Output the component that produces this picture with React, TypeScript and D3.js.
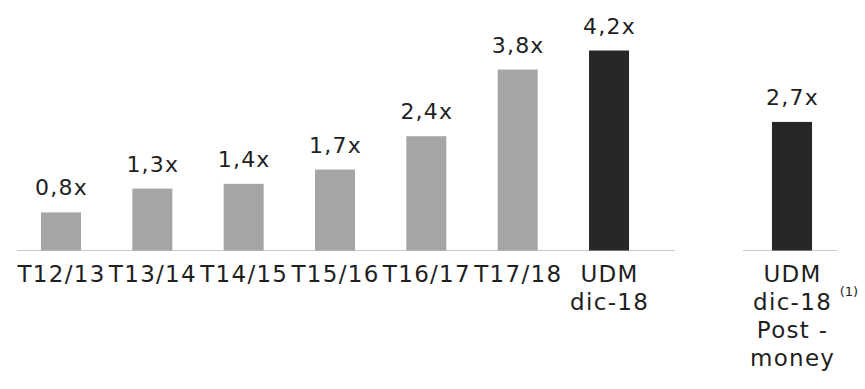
import { useEffect, useRef } from 'react';
import * as d3 from 'd3';

// Multiples (x) by period
const categories = ['T12/13', 'T13/14', 'T14/15', 'T15/16', 'T16/17', 'T17/18', 'UDM\ndic-18'];
const values = [0.8, 1.3, 1.4, 1.7, 2.4, 3.8, 4.2];
const highlighted = ['UDM\ndic-18'];

// Post-money group, drawn apart on the right
const postCategories = ['UDM\ndic-18\nPost -\nmoney'];
const postValues = [2.7];
const postNote = '(1)';

const App = () => {
  const svgRef = useRef<SVGSVGElement | null>(null);

  useEffect(() => {
    if (!svgRef.current) return;
    document.body.style.margin = '0';

    const svg = d3.select(svgRef.current);
    svg.selectAll('*').remove();

    const width = 865;
    const height = 389;
    const baseline = 250.5;
    const font = '"DejaVu Sans", Verdana, sans-serif';
    const lightColor = '#a5a5a5';
    const darkColor = '#272727';
    const textColor = '#1f1f1f';

    svg.attr('width', width).attr('height', height);

    const y = d3.scaleLinear().domain([0, 4.2]).range([baseline, 50.5]);

    const fmt = (v: number) => d3.format('.1f')(v).replace('.', ',') + 'x';

    const drawGroup = (
      cats: string[],
      vals: number[],
      range: [number, number],
      axisRange: [number, number]
    ) => {
      const x = d3.scaleBand<string>()
        .domain(cats)
        .range(range)
        .paddingInner(0.562)
        .paddingOuter(0.281);

      const g = svg.append('g');

      // Axis line
      g.append('line')
        .attr('x1', axisRange[0])
        .attr('x2', axisRange[1])
        .attr('y1', baseline)
        .attr('y2', baseline)
        .attr('stroke', '#c9c9c9')
        .attr('stroke-width', 1.2);

      // Bars
      g.selectAll('rect.bar')
        .data(cats)
        .enter()
        .append('rect')
        .attr('class', 'bar')
        .attr('x', (d) => x(d) as number)
        .attr('y', (_d, i) => y(vals[i]))
        .attr('width', x.bandwidth())
        .attr('height', (_d, i) => baseline - y(vals[i]))
        .attr('fill', (d) => (highlighted.includes(d) || cats === postCategories ? darkColor : lightColor));

      // Value labels
      g.selectAll('text.value')
        .data(cats)
        .enter()
        .append('text')
        .attr('class', 'value')
        .attr('x', (d) => (x(d) as number) + x.bandwidth() / 2 + 0.5)
        .attr('y', (_d, i) => y(vals[i]) - 17)
        .attr('text-anchor', 'middle')
        .attr('font-family', font)
        .attr('font-size', '22px')
        .attr('letter-spacing', '1.2px')
        .attr('fill', textColor)
        .text((_d, i) => fmt(vals[i]));

      // Category labels, multi-line
      const labels = g.selectAll('text.cat')
        .data(cats)
        .enter()
        .append('text')
        .attr('class', 'cat')
        .attr('text-anchor', 'middle')
        .attr('font-family', font)
        .attr('font-size', '23px')
        .attr('letter-spacing', '1.3px')
        .attr('fill', textColor);

      labels.each(function (d) {
        const cx = (x(d) as number) + x.bandwidth() / 2 + 0.6;
        d.split('\n').forEach((line, li) => {
          d3.select(this)
            .append('tspan')
            .attr('x', cx)
            .attr('y', 282 + li * 28)
            .text(line);
        });
      });

      return x;
    };

    drawGroup(categories, values, [15.3, 654.7], [17, 675]);
    const xPost = drawGroup(postCategories, postValues, [746.3, 837.7], [743, 837]);

    // Footnote marker next to the post-money label
    svg.append('text')
      .attr('x', (xPost(postCategories[0]) as number) + xPost.bandwidth() / 2 + 57)
      .attr('y', 296)
      .attr('text-anchor', 'middle')
      .attr('font-family', font)
      .attr('font-size', '13px')
      .attr('fill', textColor)
      .text(postNote);
  }, []);

  return <svg ref={svgRef} style={{ display: 'block' }}></svg>;
};

export default App;
